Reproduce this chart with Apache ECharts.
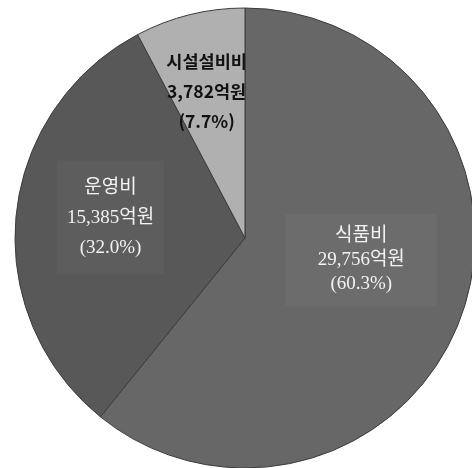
<!DOCTYPE html>
<html><head><meta charset="utf-8">
<script src="https://cdn.jsdelivr.net/npm/echarts@6/dist/echarts.min.js"></script>
<style>html,body{margin:0;padding:0;background:#fff}#c{width:472px;height:468px}</style>
</head><body><div id="c"></div>
<script>
const categories = ['식품비', '운영비', '시설설비비'];
const values = [29756, 15385, 3782];
const pctLabels = ['60.3', '32.0', '7.7'];

const sliceColors = ['#676767', '#585858', '#b0b0b0'];
const serif = '"Liberation Serif", "DejaVu Serif", "Noto Sans CJK KR", serif';
const sans = '"Noto Sans CJK KR", "Noto Sans", sans-serif';
const labelStyles = [
  { color: '#f2f2f2', fontFamily: serif, fontSize: 19, lineHeight: 24, backgroundColor: '#6c6c6c', padding: [10, 32, 10, 32], fontWeight: 'normal' },
  { color: '#f2f2f2', fontFamily: serif, fontSize: 19, lineHeight: 30, backgroundColor: '#5d5d5d', padding: [12, 10, 12, 10], fontWeight: 'normal' },
  { color: '#111111', fontFamily: sans, fontSize: 17.5, lineHeight: 30, backgroundColor: 'transparent', padding: 0, fontWeight: 'bold' }
];
const labelShift = [[5, -17], [-17, -9], [-10, -32]];

const data = categories.map((name, i) => ({
  name: name,
  value: values[i],
  itemStyle: { color: sliceColors[i] },
  label: labelStyles[i]
}));

const chart = echarts.init(document.getElementById('c'), null, { renderer: 'canvas' });
chart.setOption({
  animation: false,
  backgroundColor: '#ffffff',
  series: [{
    type: 'pie',
    center: [245, 238],
    radius: [0, 230],
    startAngle: 90,
    clockwise: true,
    avoidLabelOverlap: false,
    itemStyle: { borderColor: '#3c3c3c', borderWidth: 1 },
    label: {
      show: true,
      position: 'inside',
      align: 'center',
      formatter: function (p) {
        return p.name + '\n' + p.value.toLocaleString('en-US') + '억원\n(' + pctLabels[p.dataIndex] + '%)';
      }
    },
    labelLayout: function (p) {
      const s = labelShift[p.dataIndex];
      return { dx: s[0], dy: s[1] };
    },
    labelLine: { show: false },
    emphasis: { disabled: true },
    data: data
  }]
});
</script></body></html>
